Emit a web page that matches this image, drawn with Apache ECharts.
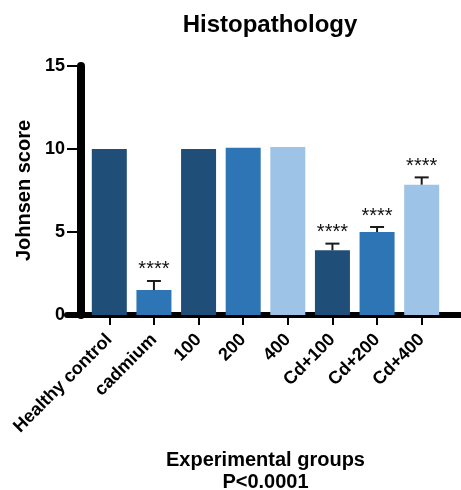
<!DOCTYPE html>
<html>
<head>
<meta charset="utf-8">
<script src="https://cdn.jsdelivr.net/npm/echarts@6/dist/echarts.min.js"></script>
<style>
html,body{margin:0;padding:0;background:#fff;}
#c{width:461px;height:490px;}
</style>
</head>
<body>
<div id="c"></div>
<script>
var categories = ['Healthy control', 'cadmium', '100', '200', '400', 'Cd+100', 'Cd+200', 'Cd+400'];
var means = [10.0, 1.5, 10.0, 10.08, 10.12, 3.9, 5.0, 7.85];
var errors = [0, 0.55, 0, 0, 0, 0.4, 0.3, 0.44];
var sigMarks = ['', '****', '', '', '', '****', '****', '****'];
var barColors = ['#1f4e79', '#2e75b6', '#1f4e79', '#2e75b6', '#9dc3e6', '#1f4e79', '#2e75b6', '#9dc3e6'];
var yTicks = [0, 5, 10, 15];

var FONT = 'Liberation Sans, Arial, Helvetica, sans-serif';
var chart = echarts.init(document.getElementById('c'));

var barData = means.map(function (v, i) {
  return { value: v, itemStyle: { color: barColors[i] } };
});
var errData = means.map(function (v, i) {
  return [i, v, errors[i]];
});

chart.setOption({
  animation: false,
  title: {
    text: 'Histopathology',
    left: 265, top: 8, textAlign: 'center',
    textStyle: { fontFamily: FONT, fontSize: 24, fontWeight: 'bold', color: '#000' }
  },
  grid: [
    { left: 87, right: 17, top: 66, bottom: 175, containLabel: false, outerBoundsMode: 'none' },
    { left: 67, right: 0, top: 66, bottom: 175, containLabel: false, outerBoundsMode: 'none' }
  ],
  xAxis: [
    {
      type: 'category', data: categories, gridIndex: 0,
      axisLine: { show: false },
      axisTick: { show: true, alignWithLabel: true, length: 10, lineStyle: { color: '#000', width: 2 } },
      axisLabel: {
        rotate: 45, interval: 0, margin: 22,
        fontFamily: FONT, fontSize: 18, fontWeight: 'bold', color: '#000'
      },
      name: 'Experimental groups\nP<0.0001',
      nameLocation: 'middle', nameGap: 134,
      nameTextStyle: { fontFamily: FONT, fontSize: 20, fontWeight: 'bold', color: '#000', lineHeight: 22 }
    },
    {
      type: 'value', gridIndex: 1, min: 0, max: 1,
      axisLine: { show: true, lineStyle: { color: '#000', width: 6 } },
      axisTick: { show: false }, axisLabel: { show: false }, splitLine: { show: false }
    }
  ],
  yAxis: [
    {
      type: 'value', gridIndex: 0, min: 0, max: 15, interval: 5, offset: 6,
      axisLine: { show: true, lineStyle: { color: '#000', width: 8 } },
      axisTick: { show: true, length: 14, lineStyle: { color: '#000', width: 2 } },
      axisLabel: {
        margin: 16, fontFamily: FONT, fontSize: 18, fontWeight: 'bold', color: '#000',
        formatter: function (v) { return yTicks.indexOf(v) >= 0 ? String(v) : ''; }
      },
      splitLine: { show: false },
      name: 'Johnsen score', nameLocation: 'middle', nameGap: 44,
      nameTextStyle: { fontFamily: FONT, fontSize: 20, fontWeight: 'bold', color: '#000' }
    },
    {
      type: 'value', gridIndex: 1, show: false, min: 0, max: 1
    }
  ],
  series: [
    {
      type: 'bar', xAxisIndex: 0, yAxisIndex: 0, data: barData,
      barWidth: 35, z: 1
    },
    {
      type: 'custom', xAxisIndex: 0, yAxisIndex: 0, data: errData, z: 3,
      renderItem: function (params, api) {
        var i = api.value(0), m = api.value(1), e = api.value(2);
        var sig = sigMarks[params.dataIndex];
        var base = api.coord([i, m]);
        var top = api.coord([i, m + e]);
        var children = [];
        if (e > 0) {
          children.push({ type: 'line', shape: { x1: base[0], y1: base[1], x2: top[0], y2: top[1] }, style: { stroke: '#1a1a1a', lineWidth: 2 } });
          children.push({ type: 'line', shape: { x1: top[0] - 7, y1: top[1], x2: top[0] + 7, y2: top[1] }, style: { stroke: '#1a1a1a', lineWidth: 2 } });
        }
        if (sig) {
          children.push({ type: 'text', style: { text: sig, x: top[0], y: top[1] - 11, align: 'center', verticalAlign: 'middle', fontFamily: FONT, fontSize: 20, fill: '#111' } });
        }
        return { type: 'group', children: children };
      }
    }
  ]
});
</script>
</body>
</html>
